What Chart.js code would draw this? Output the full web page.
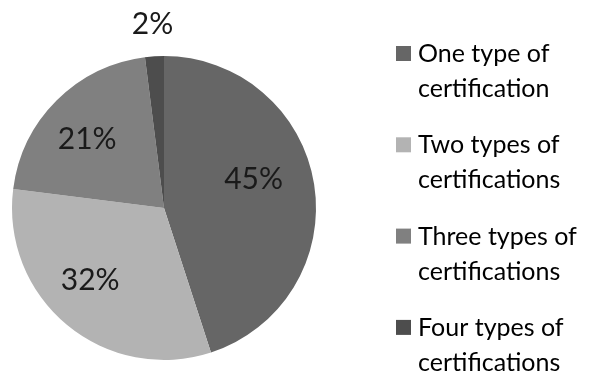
<!DOCTYPE html>
<html>
<head>
<meta charset="utf-8">
<script src="https://cdn.jsdelivr.net/npm/chart.js@4"></script>
<style>
  html, body { margin: 0; padding: 0; background: #fff; }
  #wrap { width: 589px; height: 371px; }
</style>
</head>
<body>
<div id="wrap"><canvas id="myPieChart"></canvas></div>
<script>
// chart data
var categories = [
	['One type of', 'certification'],
	['Two types of', 'certifications'],
	['Three types of', 'certifications'],
	['Four types of', 'certifications']
];
var shares = [45, 32, 21, 2];
var sliceColors = ['#666666', '#b3b3b3', '#808080', '#4d4d4d'];

// label placement tweaks: angle shift (deg) from slice middle, radius as fraction of pie radius
var labelShift = [-9, 6, -3, 0];
var labelRadius = [0.62, 0.68, 0.68, 1.21];

const pctLabels = {
	id: 'pctLabels',
	afterDatasetsDraw(chart) {
		const ctx = chart.ctx;
		const meta = chart.getDatasetMeta(0);
		ctx.save();
		ctx.font = '30px Lato';
		ctx.fillStyle = '#1a1a1a';
		ctx.textAlign = 'center';
		ctx.textBaseline = 'middle';
		meta.data.forEach(function (arc, i) {
			var p = arc.getProps(['x', 'y', 'startAngle', 'endAngle', 'outerRadius'], true);
			var a = (p.startAngle + p.endAngle) / 2 + labelShift[i] * Math.PI / 180;
			var r = p.outerRadius * labelRadius[i];
			ctx.fillText(chart.data.datasets[0].data[i] + '%', p.x + Math.cos(a) * r, p.y + Math.sin(a) * r);
		});
		ctx.restore();
	}
};

const sideLegend = {
	id: 'sideLegend',
	afterDraw(chart) {
		const ctx = chart.ctx;
		const colors = chart.data.datasets[0].backgroundColor;
		ctx.save();
		ctx.font = '25px Lato';
		ctx.textBaseline = 'middle';
		chart.data.labels.forEach(function (lines, i) {
			var y = 54 + i * 91.3;
			ctx.fillStyle = colors[i];
			ctx.fillRect(396, y - 8, 15, 15);
			ctx.fillStyle = '#000';
			lines.forEach(function (t, j) {
				ctx.fillText(t, 418, y + j * 35);
			});
		});
		ctx.restore();
	}
};

const cdata = {
	labels: categories,
	datasets: [{
		data: shares,
		backgroundColor: sliceColors,
		borderWidth: 0
	}]
};

const cconfig = {
	type: 'pie',
	data: cdata,
	options: {
		responsive: true,
		maintainAspectRatio: false,
		animation: false,
		layout: {
			padding: { top: 56, bottom: 11, left: 12, right: 273 }
		},
		plugins: {
			legend: { display: false },
			tooltip: { enabled: false }
		}
	},
	plugins: [pctLabels, sideLegend]
};

const pieChart = new Chart(
	document.getElementById('myPieChart').getContext('2d'),
	cconfig
);
</script>
</body>
</html>
